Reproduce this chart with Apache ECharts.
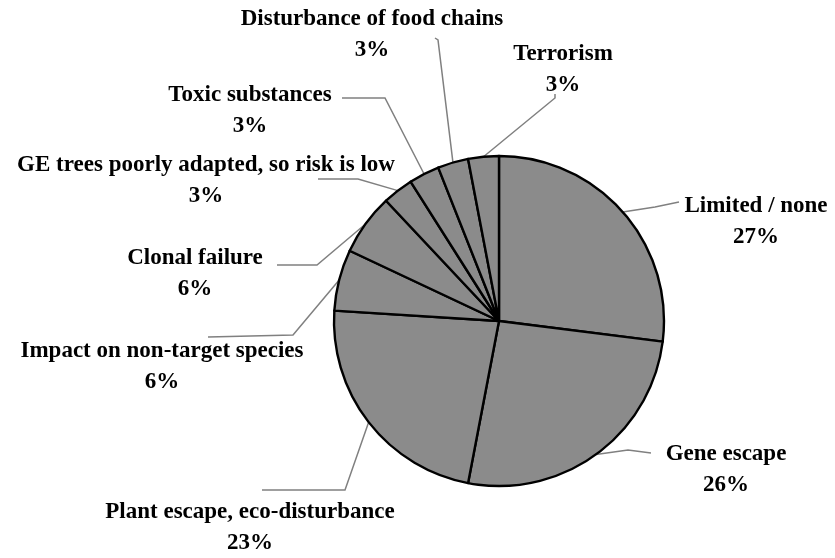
<!DOCTYPE html>
<html>
<head>
<meta charset="utf-8">
<script src="https://cdn.jsdelivr.net/npm/echarts@6/dist/echarts.min.js"></script>
<style>
  html, body { margin: 0; padding: 0; background: #fff; }
  #chart { width: 835px; height: 558px; }
</style>
</head>
<body>
<div id="chart"></div>
<script>
// Perceived risks of GE trees, share of responses
const categories = [
  'Limited / none',
  'Gene escape',
  'Plant escape, eco-disturbance',
  'Impact on non-target species',
  'Clonal failure',
  'GE trees poorly adapted, so risk is low',
  'Toxic substances',
  'Disturbance of food chains',
  'Terrorism'
];
const shares = [27, 26, 23, 6, 6, 3, 3, 3, 3];

// Where each two-line label block is centred
const labelSpots = [
  [756, 222],
  [726, 470],
  [250, 528],
  [162, 367],
  [195, 274],
  [206, 181],
  [250, 111],
  [372, 35],
  [563, 70]
];

// Leader line bend and end beside each label
const guideBends = [
  [[655, 207], [679, 202]],
  [[628, 450], [651, 453]],
  [[345, 490], [262, 490]],
  [[293, 335], [208, 337]],
  [[317, 265], [277, 265]],
  [[358, 179], [318, 179]],
  [[385, 98], [342, 98]],
  [[438, 40], [435, 38]],
  [[555, 98], [555, 94]]
];

const chart = echarts.init(document.getElementById('chart'), null, { renderer: 'canvas' });

chart.setOption({
  backgroundColor: '#ffffff',
  animation: false,
  series: [{
    type: 'pie',
    center: [499, 321],
    radius: 165,
    startAngle: 90,
    clockwise: true,
    data: categories.map((name, i) => ({ name, value: shares[i] })),
    itemStyle: {
      color: '#8b8b8b',
      borderColor: '#000000',
      borderWidth: 2.4
    },
    label: {
      show: true,
      position: 'outside',
      formatter: p => p.name + '\n' + p.value + '%',
      fontFamily: '"Liberation Serif", "DejaVu Serif", serif',
      fontWeight: 'bold',
      fontSize: 23,
      lineHeight: 31,
      color: '#000000',
      align: 'center',
      overflow: 'none'
    },
    labelLine: {
      show: true,
      length: 20,
      length2: 30,
      lineStyle: { color: '#808080', width: 1.5 }
    },
    labelLayout: params => {
      const i = params.dataIndex;
      const spot = labelSpots[i];
      const out = {
        x: spot[0],
        y: spot[1],
        align: 'center',
        verticalAlign: 'middle'
      };
      // the leader starts where the library anchors it on the slice rim
      const pts = params.labelLinePoints;
      if (pts && pts.length) {
        out.labelLinePoints = [pts[0].slice(), guideBends[i][0], guideBends[i][1]];
      }
      return out;
    },
    emphasis: { disabled: true }
  }]
});
</script>
</body>
</html>
